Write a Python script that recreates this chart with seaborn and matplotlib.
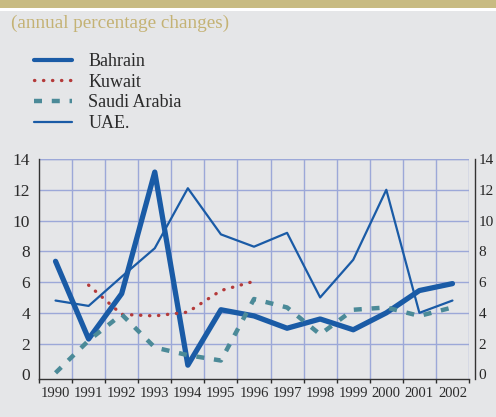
import numpy as np
import pandas as pd
import matplotlib
matplotlib.use("Agg")
import matplotlib.pyplot as plt
import seaborn as sns
from matplotlib.lines import Line2D

years = [1990, 1991, 1992, 1993, 1994, 1995, 1996, 1997, 1998, 1999, 2000, 2001, 2002]
bahrain = [7.35, 2.3, 5.25, 13.15, 0.6, 4.2, 3.8, 3.0, 3.6, 2.9, 4.0, 5.45, 5.9]
kuwait = [np.nan, 5.8, 3.9, 3.8, 4.05, 5.45, 6.05, np.nan, np.nan, np.nan, np.nan, np.nan, np.nan]
saudi = [0.1, 2.2, 3.9, 1.75, 1.25, 0.9, 4.9, 4.35, 2.6, 4.2, 4.35, 3.8, 4.35]
uae = [4.8, 4.45, 6.35, 8.2, 12.1, 9.1, 8.3, 9.2, 5.0, 7.45, 12.0, 4.0, 4.8]
yticks = [0, 2, 4, 6, 8, 10, 12, 14]
title = "(annual percentage changes)"

BG = "#e5e6e8"
BLUE = "#1a5ba6"
RED = "#b43a3a"
TEAL = "#4b8a98"
GRID = "#9ca8d8"
TXT = "#2b2b2b"
TAN = "#c8bb82"

sns.set_theme(style="white")
plt.rcParams["font.family"] = ["Liberation Serif", "DejaVu Serif"]

fig = plt.figure(figsize=(4.96, 4.17), dpi=100, facecolor=BG)
# top band
fig.patches.append(plt.Rectangle((0, 1 - 8 / 417), 1, 8 / 417, transform=fig.transFigure,
                                 facecolor=TAN, edgecolor="none", zorder=0))
fig.patches.append(plt.Rectangle((0, 1 - 11 / 417), 1, 3 / 417, transform=fig.transFigure,
                                 facecolor="white", edgecolor="none", zorder=0))
fig.text(11 / 496, 1 - 23 / 417, title, color="#c4b274", fontsize=13.8, va="center", ha="left")

ax = fig.add_axes([39 / 496, 1 - 379 / 417, 430 / 496, 220 / 417])
ax.set_facecolor(BG)

x = np.arange(len(years))
series = [
    ("Bahrain", bahrain, dict(color=BLUE, linewidth=3.8, linestyle="-")),
    ("Kuwait", kuwait, dict(color=RED, linewidth=2.4, linestyle=(0, (0.1, 2.6)), dash_capstyle="round")),
    ("Saudi Arabia", saudi, dict(color=TEAL, linewidth=3.2, linestyle=(0, (1.8, 2.2)))),
    ("UAE.", uae, dict(color=BLUE, linewidth=1.6, linestyle="-")),
]
handles = []
for name, vals, kw in series:
    df = pd.DataFrame({"x": x, "y": vals}).dropna()
    sns.lineplot(data=df, x="x", y="y", ax=ax, zorder=3, **kw)
    hk = dict(kw)
    if name == "Bahrain":
        hk["linewidth"] = 3.0
    handles.append(Line2D([], [], label=name, **hk))

ax.set_xlim(-0.5, 12.5)
ax.set_ylim(-0.3, 14)
ax.set_xlabel("")
ax.set_ylabel("")

# boundaries: major ticks; year labels at minor ticks
ax.set_xticks(np.arange(-0.5, 13, 1.0))
ax.set_xticklabels([])
ax.set_xticks(x, minor=True)
ax.set_xticklabels([str(y) for y in years], minor=True, fontsize=10.5, color=TXT)
ax.tick_params(axis="x", which="major", direction="out", length=3, width=1, color=TXT, bottom=True)
ax.tick_params(axis="x", which="minor", length=0, pad=6)

ax.set_yticks(yticks)
ax.set_yticklabels([str(v) for v in yticks], fontsize=12.5, color=TXT)
ax.tick_params(axis="y", left=False, right=False, length=0, labelleft=True, labelright=False, pad=6.5)

ax.grid(True, axis="both", which="major", color=GRID, linewidth=1.0)
ax.get_ygridlines()[0].set_visible(False)
xg = ax.get_xgridlines()
xg[0].set_visible(False)
xg[-1].set_visible(False)
ax.set_axisbelow(True)

for s in ["left", "bottom"]:
    ax.spines[s].set_color("#333333")
    ax.spines[s].set_linewidth(1.0)
ax.spines["top"].set_visible(False)
ax.spines["right"].set_visible(False)
ax.axhline(14, color=GRID, linewidth=1.0, zorder=1)
ax.axvline(12.5, color=GRID, linewidth=1.0, zorder=1)

# right-hand labels
ax2 = ax.twinx()
ax2.set_ylim(ax.get_ylim())
ax2.set_yticks(yticks)
ax2.set_yticklabels([str(v) for v in yticks], fontsize=12.5, color=TXT)
ax2.tick_params(axis="y", right=False, left=False, length=0, pad=3)
for s in ["left", "top", "bottom"]:
    ax2.spines[s].set_visible(False)
ax2.spines["right"].set_position(("outward", 4))
ax2.spines["right"].set_color("#333333")
ax2.spines["right"].set_linewidth(1.0)
ax2.grid(False)

leg = fig.legend(handles=handles, loc="upper left", bbox_to_anchor=(34 / 496, 1 - 53 / 417),
                 frameon=False, fontsize=13, handlelength=2.1, handletextpad=0.9,
                 labelspacing=0.2, borderaxespad=0, borderpad=0)
for t in leg.get_texts():
    t.set_color(TXT)

fig.savefig("out.png", dpi=100, facecolor=BG)
